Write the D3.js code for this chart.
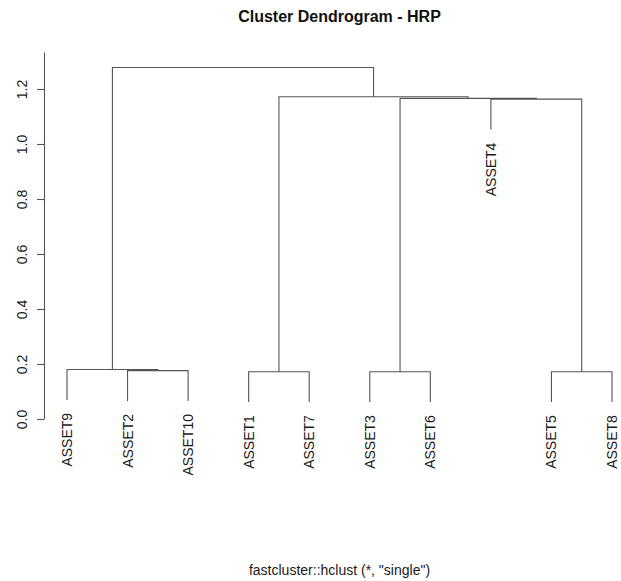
<!DOCTYPE html>
<html>
<head>
<meta charset="utf-8">
<script src="https://cdn.jsdelivr.net/npm/d3@7"></script>
<style>
  body { margin: 0; background: #fff; }
  svg { display: block; font-family: "Liberation Sans", Arial, Helvetica, sans-serif; }
</style>
</head>
<body>
<svg id="chart" width="621" height="581"></svg>
<script>
// leaf labels, R-style merge table (negative = leaf, positive = earlier step)
const labels = ["ASSET1", "ASSET2", "ASSET3", "ASSET4", "ASSET5",
  "ASSET6", "ASSET7", "ASSET8", "ASSET9", "ASSET10"];
const mergeLeft = [-1, -3, -5, -2, -9, -4, 2, 1, 5];
const mergeRight = [-7, -6, -8, -10, 4, 3, 6, 7, 8];
const mergeHeight = [0.172, 0.172, 0.172, 0.176, 0.180, 1.163, 1.166, 1.172, 1.278];
const yTicks = [0, 0.2, 0.4, 0.6, 0.8, 1.0, 1.2];

const title = "Cluster Dendrogram - HRP";
const subtitle = "fastcluster::hclust (*, \"single\")";

const width = 621;
const height = 581;
const hang = 0.1 * (d3.max(mergeHeight) - d3.min(mergeHeight));

// build nested tree from the merge table
const build = (ref) => {
  if (ref < 0) return { name: labels[-ref - 1], h: null };
  const i = ref - 1;
  return {
    h: mergeHeight[i],
    children: [build(mergeLeft[i]), build(mergeRight[i])],
  };
};
const root = d3.hierarchy(build(mergeHeight.length));
const leaves = root.leaves();

const x = d3.scaleLinear().domain([1, leaves.length]).range([67, 612]);
const y = d3.scaleLinear().domain([0, 1.3345]).range([419, 52]);

// positions: leaves by order, internal nodes at midpoint of children
leaves.forEach((d, i) => { d.px = x(i + 1); });
root.eachAfter((d) => {
  if (d.children) {
    d.px = (d.children[0].px + d.children[1].px) / 2;
    d.hv = d.data.h;
  }
});
root.eachAfter((d) => {
  if (!d.children) d.hv = d.parent.data.h - hang;
});

const svg = d3.select("#chart");
svg.append("rect").attr("width", width).attr("height", height).attr("fill", "#fff");

const lineColor = "#555";
const textColor = "#1a1a1a";

// branches
const links = svg.append("g")
  .attr("fill", "none")
  .attr("stroke", lineColor)
  .attr("stroke-width", 1.1);

root.descendants().filter((d) => d.children).forEach((d) => {
  const [a, b] = d.children;
  links.append("path")
    .attr("d", `M${a.px},${y(a.hv)}V${y(d.hv)}H${b.px}V${y(b.hv)}`);
});

// leaf labels
svg.append("g")
  .selectAll("text")
  .data(leaves)
  .join("text")
  .attr("transform", (d) => `translate(${d.px},${y(d.hv) + 13}) rotate(-90)`)
  .attr("text-anchor", "end")
  .attr("dy", "0.36em")
  .attr("font-size", 14)
  .attr("fill", textColor)
  .text((d) => d.data.name);

// y axis
const axis = svg.append("g")
  .attr("transform", "translate(44,0)")
  .style("color", lineColor)
  .call(d3.axisLeft(y).tickValues(yTicks).tickFormat(d3.format(".1f"))
    .tickSize(7).tickSizeOuter(0));

axis.selectAll("path, line").attr("stroke-width", 1.1);
axis.selectAll("text")
  .attr("x", null)
  .attr("dy", null)
  .attr("transform", "translate(-22,0) rotate(-90)")
  .attr("text-anchor", "middle")
  .attr("dominant-baseline", "central")
  .attr("font-size", 14)
  .attr("font-family", "Liberation Sans, Arial, sans-serif")
  .attr("fill", textColor);

const cx = x((1 + leaves.length) / 2);

svg.append("text")
  .attr("x", cx)
  .attr("y", 22)
  .attr("text-anchor", "middle")
  .attr("font-size", 16)
  .attr("font-weight", "bold")
  .attr("fill", "#111")
  .text(title);

svg.append("text")
  .attr("x", cx)
  .attr("y", 575)
  .attr("text-anchor", "middle")
  .attr("font-size", 14)
  .attr("fill", textColor)
  .text(subtitle);
</script>
</body>
</html>
